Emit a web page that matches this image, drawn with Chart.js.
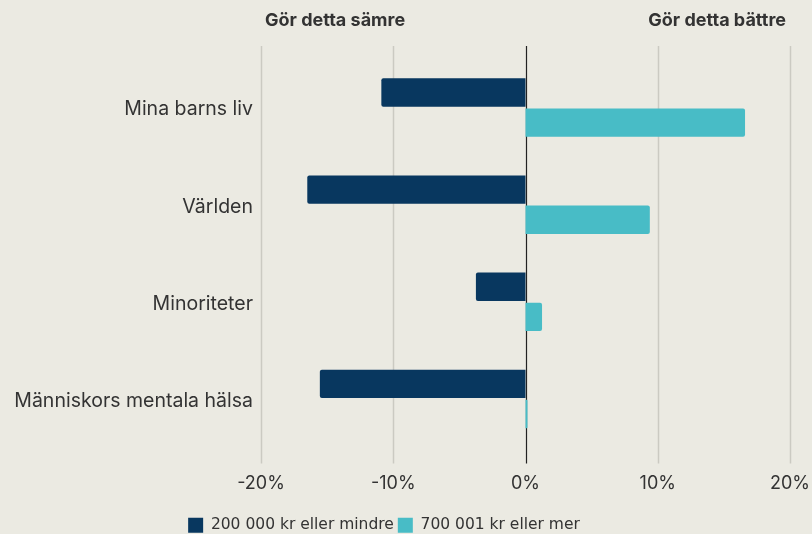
<!DOCTYPE html>
<html>
<head>
<meta charset="utf-8">
<script src="https://cdn.jsdelivr.net/npm/chart.js@4/dist/chart.umd.min.js"></script>
<style>
  html, body { margin: 0; padding: 0; background: #EBEAE2; }
  #wrap { position: relative; width: 812px; height: 534px; }
  .head { position: absolute; top: 9px; font-family: Inter, sans-serif; font-weight: 700; font-size: 18px; color: #333; }
  #left { left: 265px; }
  #right { right: 26px; }
</style>
</head>
<body>
<div id="wrap">
  <canvas id="chart" width="812" height="534"></canvas>
  <div class="head" id="left">Gör detta sämre</div>
  <div class="head" id="right">Gör detta bättre</div>
</div>
<script>
// Data
const categories = ['Mina barns liv', 'Världen', 'Minoriteter', 'Människors mentala hälsa'];
const lowIncome = [-10.9, -16.5, -3.75, -15.55];
const highIncome = [16.6, 9.4, 1.25, 0.15];
const seriesNames = ['200 000 kr eller mindre', '700 001 kr eller mer'];
const xTicks = [-20, -10, 0, 10, 20];

const darkBlue = '#08375F';
const teal = '#48BCC6';
const textColor = '#333333';

// vertical grid lines (and the zero line) reaching a bit beyond the bar area
const gridPlugin = {
    id: 'gridLines',
    beforeDatasetsDraw(chart) {
        const ctx = chart.ctx;
        const x = chart.scales.x;
        const area = chart.chartArea;
        ctx.save();
        xTicks.forEach(function(t) {
            const px = Math.round(x.getPixelForValue(t)) + 0.5;
            ctx.beginPath();
            if (t === 0) {
                ctx.strokeStyle = '#222';
                ctx.lineWidth = 1.2;
            } else {
                ctx.strokeStyle = '#CBCAC2';
                ctx.lineWidth = 1.5;
            }
            ctx.moveTo(px, area.top - 13);
            ctx.lineTo(px, area.bottom + 16);
            ctx.stroke();
        });
        ctx.restore();
    }
};

new Chart(document.getElementById('chart'), {
    type: 'bar',
    data: {
        labels: categories,
        datasets: [{
            label: seriesNames[0],
            data: lowIncome,
            backgroundColor: darkBlue,
            borderRadius: { topLeft: 2, bottomLeft: 2, topRight: 0, bottomRight: 0 },
            borderSkipped: false
        }, {
            label: seriesNames[1],
            data: highIncome,
            backgroundColor: teal,
            borderRadius: { topRight: 2, bottomRight: 2, topLeft: 0, bottomLeft: 0 },
            borderSkipped: false
        }]
    },
    options: {
        indexAxis: 'y',
        responsive: false,
        animation: false,
        layout: { padding: { top: 59, right: 22, left: -22, bottom: -9 } },
        datasets: {
            bar: { categoryPercentage: 0.62, barPercentage: 0.94 }
        },
        plugins: {
            legend: {
                position: 'bottom',
                labels: {
                    boxWidth: 15,
                    boxHeight: 15,
                    padding: 4,
                    color: textColor,
                    font: { family: 'DejaVu Sans', size: 15.5 }
                }
            },
            tooltip: { enabled: false }
        },
        scales: {
            x: {
                min: -20,
                max: 20,
                afterBuildTicks: function(scale) {
                    scale.ticks = xTicks.map(v => ({ value: v }));
                },
                grid: { display: false },
                border: { display: false },
                ticks: {
                    padding: 17,
                    color: textColor,
                    font: { family: 'Inter', size: 18 },
                    callback: v => v + '%'
                },
                afterFit: function(scale) {
                    scale.height = 66;
                    scale.paddingRight = 0;
                    scale.paddingLeft = 0;
                }
            },
            y: {
                grid: { display: false },
                border: { display: false },
                ticks: {
                    padding: 0,
                    labelOffset: 2,
                    color: textColor,
                    font: { family: 'Inter', size: 19.5 }
                },
                afterFit: function(scale) { scale.width = 283; }
            }
        }
    },
    plugins: [gridPlugin]
});
</script>
</body>
</html>
